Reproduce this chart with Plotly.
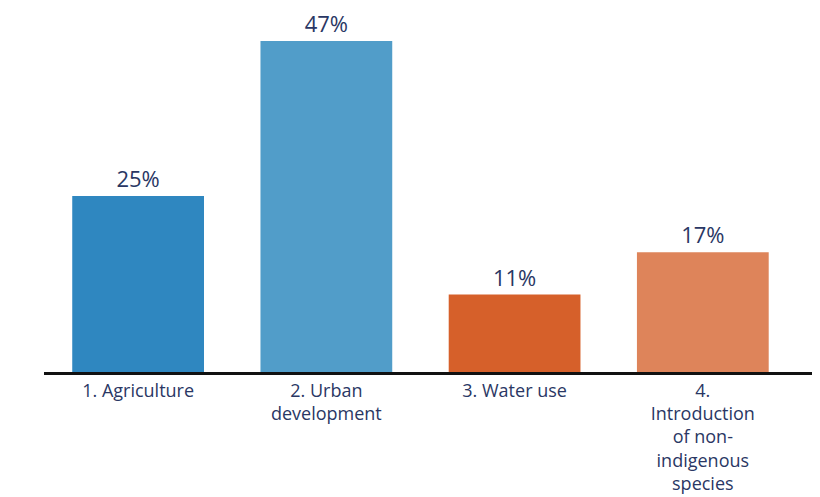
import plotly.graph_objects as go

categories = ["1. Agriculture", "2. Urban<br>development", "3. Water use",
              "4.<br>Introduction<br>of non-<br>indigenous<br>species"]
shares = [25, 47, 11, 17]
bar_colors = ["#2F87C0", "#519DC9", "#D6602A", "#DE845A"]

positions = list(range(len(categories)))
text_color = "#2A3764"

fig = go.Figure(
    go.Bar(
        x=positions,
        y=shares,
        marker=dict(color=bar_colors, line=dict(width=0)),
        width=0.7,
        text=[f"{v}%" for v in shares],
        textposition="outside",
        textfont=dict(size=22, color=text_color, family="Open Sans"),
        cliponaxis=False,
    )
)

fig.update_layout(
    width=820,
    height=497,
    margin=dict(l=44, r=8, t=20, b=125),
    plot_bgcolor="white",
    paper_bgcolor="white",
    showlegend=False,
    font=dict(family="Open Sans", color=text_color),
    xaxis=dict(
        range=[-0.5, 3.58],
        tickmode="array",
        tickvals=positions,
        ticktext=categories,
        tickfont=dict(size=18, color=text_color),
        automargin=False,
        showline=True,
        linecolor="#111111",
        linewidth=3,
        ticks="",
        showgrid=False,
        zeroline=False,
    ),
    yaxis=dict(
        range=[0, 50],
        visible=False,
        showgrid=False,
        zeroline=False,
    ),
)

fig.write_html("out.html")
